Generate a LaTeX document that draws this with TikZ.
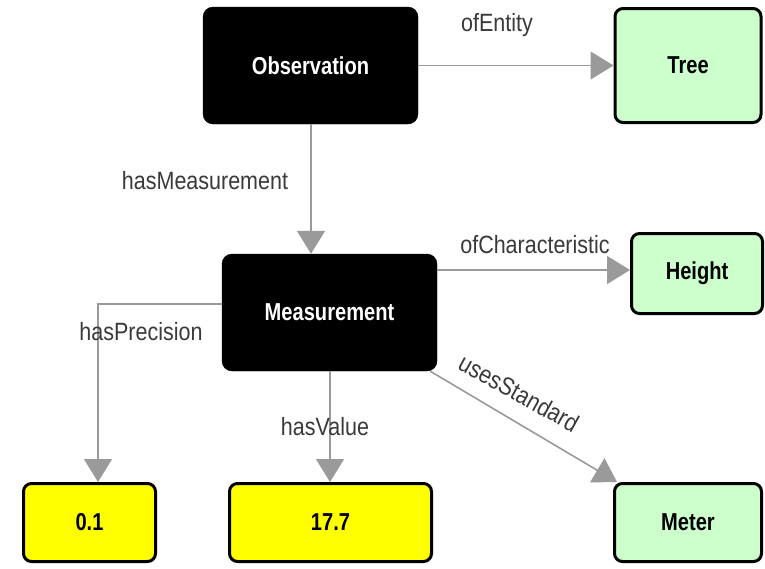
\documentclass[tikz,border=0pt]{standalone}
\usepackage{fontspec}
\setmainfont{Liberation Sans}[FakeStretch=0.82]
\newfontfamily\labfont{Liberation Sans}[FakeStretch=0.86]
\usetikzlibrary{arrows.meta,calc}
\definecolor{lgreen}{HTML}{CCFFCC}
\definecolor{lyellow}{HTML}{FFFF00}
\definecolor{edgegray}{HTML}{9A9A9A}
\definecolor{labgray}{HTML}{3A3A3A}
\begin{document}
\begin{tikzpicture}[x=1pt,y=-1pt,
  darkbox/.style={draw=black,fill=black,rounded corners=10pt,text=white,font=\fontsize{24.5}{28}\selectfont\bfseries,minimum width=215pt,minimum height=117pt,inner sep=0pt},
  greenbox/.style={draw=black,line width=3pt,fill=lgreen,rounded corners=8pt,font=\fontsize{24.5}{28}\selectfont\bfseries,inner sep=0pt},
  yellowbox/.style={draw=black,line width=3pt,fill=lyellow,rounded corners=8pt,font=\fontsize{24.5}{28}\selectfont\bfseries,inner sep=0pt},
  arr/.style={draw=edgegray,line width=1.6pt,-{Triangle[length=23pt,width=28pt,fill=edgegray]}},
  lab/.style={text=labgray,font=\labfont\fontsize{25}{29}\selectfont,anchor=base,inner sep=0pt}]
\useasboundingbox (0,0) rectangle (765,568);
\fill[white] (0,0) rectangle (765,568);
\node[darkbox] (O) at (310.5,65.5) {Observation};
\node[greenbox,minimum width=146pt,minimum height=114pt] (T) at (688,65.5) {Tree};
\node[darkbox] (M) at (329.5,312.5) {Measurement};
\node[greenbox,minimum width=131pt,minimum height=80pt] (H) at (697,273.5) {Height};
\node[greenbox,minimum width=147pt,minimum height=78pt] (Me) at (688,522.5) {Meter};
\node[yellowbox,minimum width=132pt,minimum height=78pt] (P) at (89.5,522.5) {0.1};
\node[yellowbox,minimum width=202pt,minimum height=78pt] (V) at (330.5,522.5) {17.7};
\coordinate (pp) at (98,304);
\coordinate (vx) at (330,0);
\draw[arr] (O.east) -- (T.west);
\draw[arr] (O.south -| 311,0) -- (M.north -| 311,0);
\draw[arr] (M.east |- 0,270) -- (H.west |- 0,270);
\draw[arr] (M.west |- pp) -- (pp) -- (pp |- P.north);
\draw[arr] (M.south -| vx) -- (V.north -| vx);
\draw[arr] ($(M.south east)+(-7,0)$) -- ($(Me.north west)+(4,0)$);
\node[lab] (l1) at (497,31) {ofEntity};
\node[lab] (l2) at (205,189) {hasMeasurement};
\node[lab] (l3) at (535,253) {ofCharacteristic};
\node[lab] (l4) at (141,340) {hasPrecision};
\node[lab] (l5) at (325,435) {hasValue};
\node[text=labgray,font=\labfont\fontsize{25}{29}\selectfont,inner sep=0pt,rotate=-29] (l6) at (519,393) {usesStandard};
\end{tikzpicture}
\end{document}
